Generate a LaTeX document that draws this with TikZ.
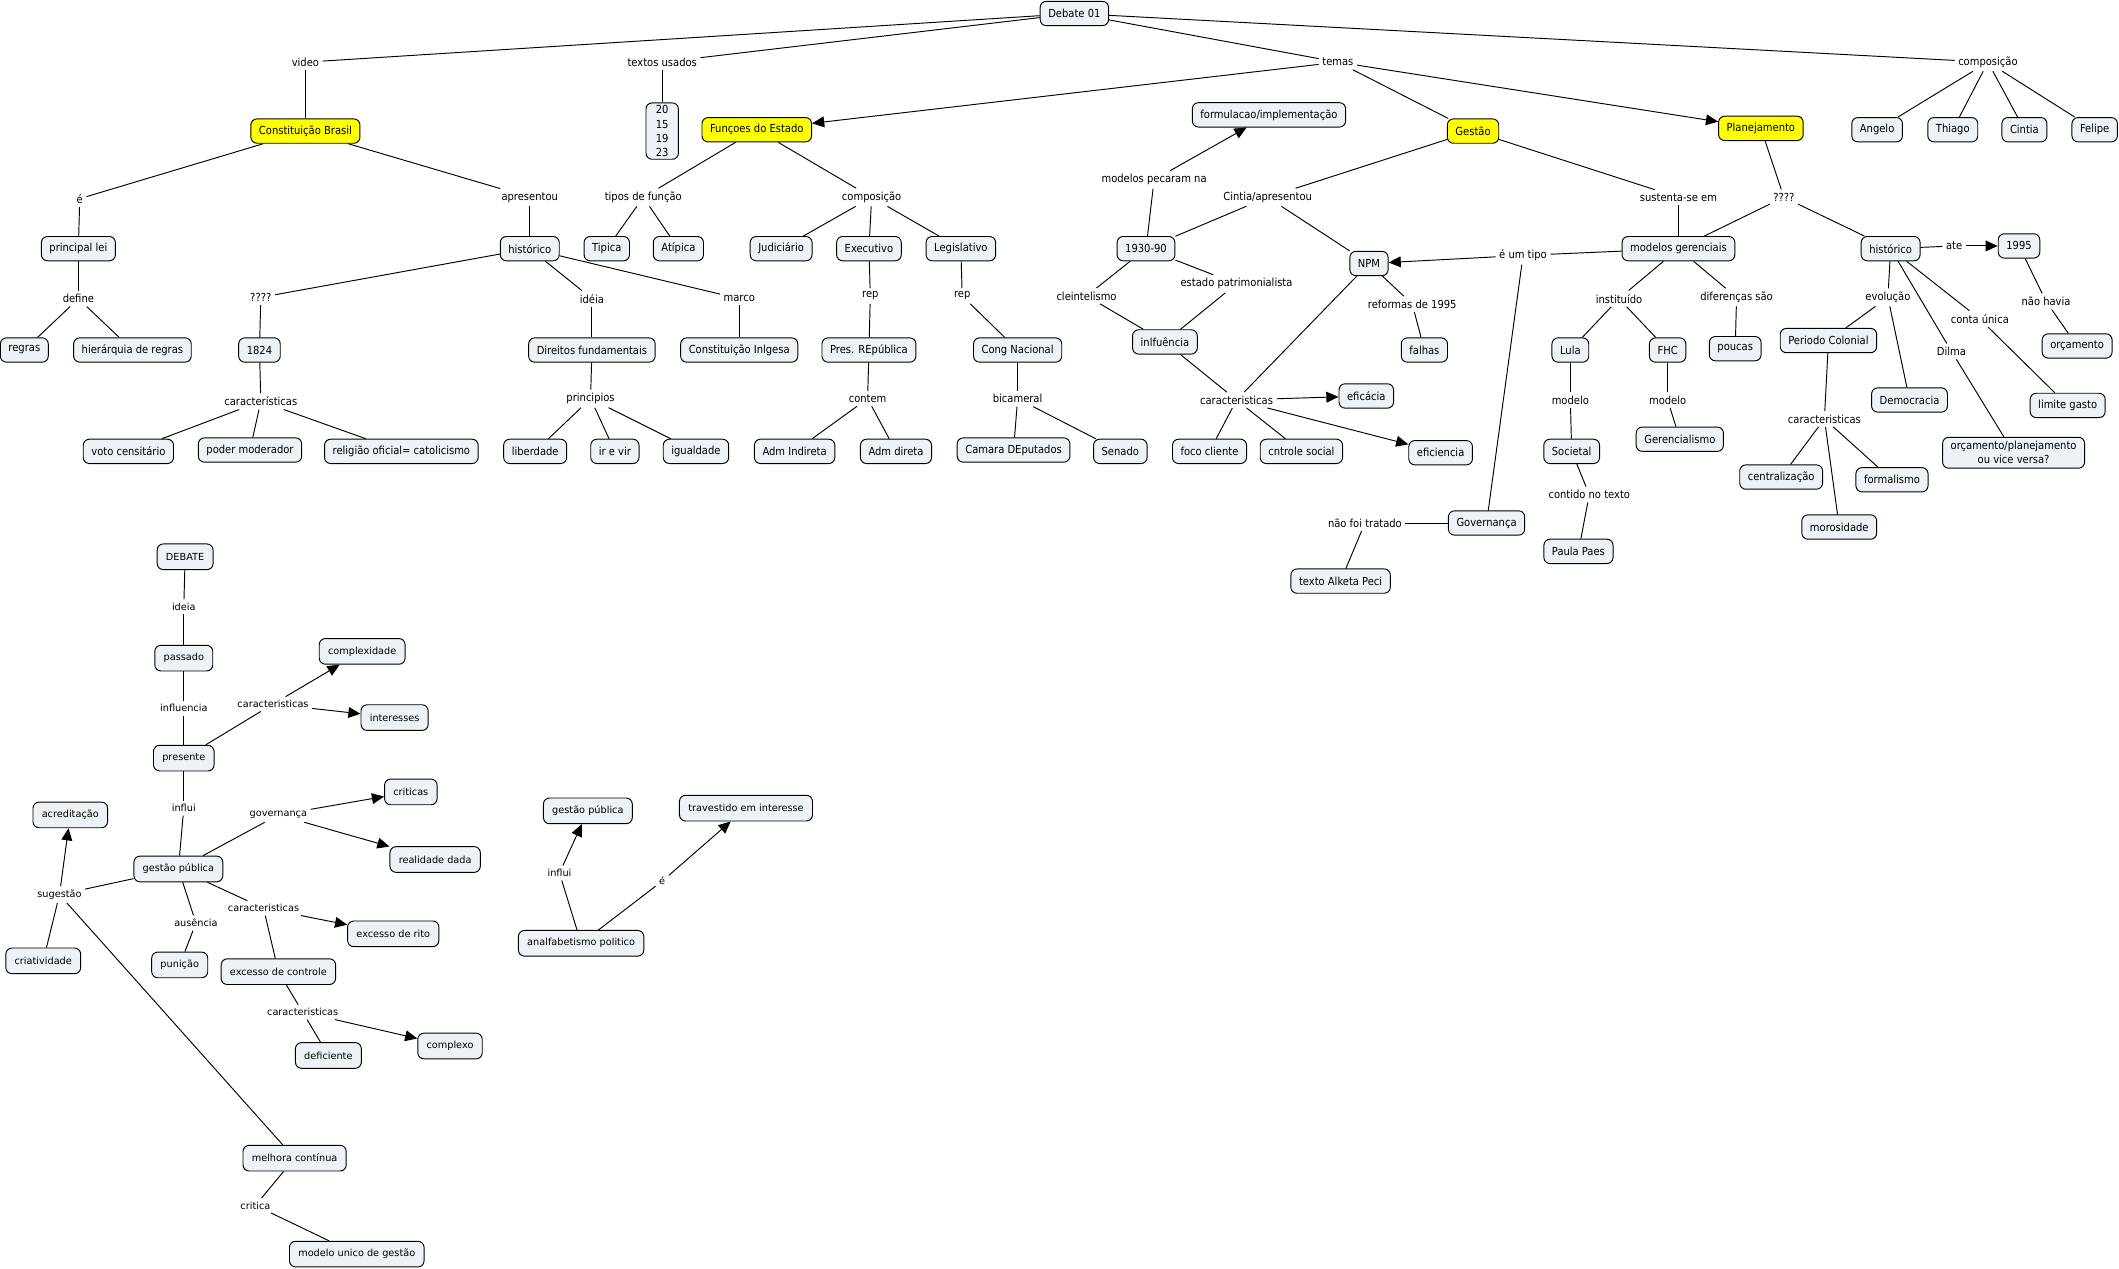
\documentclass[tikz,border=0pt]{standalone}
\usepackage{fontspec}
\setmainfont{DejaVu Sans}
\newfontfamily\condf{DejaVu Sans Condensed}
\usetikzlibrary{arrows.meta}
\definecolor{cbg}{RGB}{236,242,245}
\definecolor{cyel}{RGB}{255,255,0}
\begin{document}
\begin{tikzpicture}[x=1pt,y=-1pt,
 concept/.style={draw=black, line width=0.7pt, rounded corners=4.5pt, fill=cbg, inner xsep=6pt, inner ysep=1pt, minimum height=18pt, font=\condf\fontsize{8.2}{10.5}\selectfont},
 mainc/.style={concept, fill=cyel},
 lbl/.style={inner sep=2.5pt, font=\condf\fontsize{8.2}{10}\selectfont},
 bconcept/.style={concept, font=\fontsize{7.2}{9}\selectfont, inner xsep=6.5pt, minimum height=19pt},
 blbl/.style={lbl, font=\fontsize{7.2}{9}\selectfont},
 ln/.style={line width=0.7pt},
 ar/.style={ln, -{Triangle[length=9pt,width=8pt]}}
]
\fill[white] (0,0) rectangle (1568,939);
\useasboundingbox (0,0) rectangle (1568,939);

% ---------- top concepts ----------
\node[concept] (deb) at (795,10) {Debate 01};
\node[mainc] (cb) at (226,97) {Constituição Brasil};
\node[concept, align=center, inner ysep=2pt, minimum width=24pt, inner xsep=3pt] (nums) at (490,97) {20\\15\\19\\23};
\node[mainc] (fe) at (560,96) {Funçoes do Estado};
\node[concept] (form) at (939,85) {formulacao/implementação};
\node[mainc] (ges) at (1090,97) {Gestão};
\node[mainc] (plan) at (1303,95) {Planejamento};
\node[concept] (angelo) at (1389,96) {Angelo};
\node[concept] (thiago) at (1445,96) {Thiago};
\node[concept] (cintia) at (1498,96) {Cintia};
\node[concept] (felipe) at (1550,96) {Felipe};

\node[concept] (plei) at (58,184) {principal lei};
\node[concept] (h1) at (392,184) {histórico};
\node[concept] (tip) at (449,184) {Tipica};
\node[concept] (atip) at (502,184) {Atípica};
\node[concept] (jud) at (578,184) {Judiciário};
\node[concept] (exe) at (643,184) {Executivo};
\node[concept] (leg) at (711,184) {Legislativo};
\node[concept] (n1930) at (848,184) {1930-90};
\node[concept] (npm) at (1013,195) {NPM};
\node[concept] (mg) at (1242,184) {modelos gerenciais};
\node[concept] (h2) at (1399,184) {histórico};
\node[concept] (y1995) at (1494,182) {1995};

\node[concept] (regras) at (18,259) {regras};
\node[concept] (hier) at (98,259) {hierárquia de regras};
\node[concept] (n1824) at (192,259) {1824};
\node[concept] (dirf) at (438,259) {Direitos fundamentais};
\node[concept] (cing) at (547,259) {Constituição Inlgesa};
\node[concept] (pres) at (643,259) {Pres. REpública};
\node[concept] (cong) at (753,259) {Cong Nacional};
\node[concept] (infl) at (862,253) {inlfuência};
\node[concept] (falhas) at (1054,259) {falhas};
\node[concept] (lula) at (1162,259) {Lula};
\node[concept] (fhc) at (1234,259) {FHC};
\node[concept] (poucas) at (1284,258) {poucas};
\node[concept] (pcol) at (1353,252) {Periodo Colonial};
\node[concept] (orc) at (1537,256) {orçamento};
\node[concept] (democ) at (1413,296) {Democracia};
\node[concept] (limite) at (1530,300) {limite gasto};
\node[concept] (efic) at (1011,293) {eficácia};

\node[concept] (voto) at (95,334) {voto censitário};
\node[concept] (poder) at (185,333) {poder moderador};
\node[concept] (relig) at (297,334) {religião oficial= catolicismo};
\node[concept] (lib) at (396,334) {liberdade};
\node[concept] (irvir) at (455,334) {ir e vir};
\node[concept] (igual) at (515,334) {igualdade};
\node[concept] (admi) at (588,334) {Adm Indireta};
\node[concept] (admd) at (663,334) {Adm direta};
\node[concept] (cam) at (750,333) {Camara DEputados};
\node[concept] (sen) at (829,334) {Senado};
\node[concept] (foco) at (895,334) {foco cliente};
\node[concept] (cntr) at (963,334) {cntrole social};
\node[concept] (efi2) at (1066,335) {eficiencia};
\node[concept] (soc) at (1163,334) {Societal};
\node[concept] (geren) at (1243,325) {Gerencialismo};
\node[concept] (centr) at (1318,353) {centralização};
\node[concept] (formal) at (1400,355) {formalismo};
\node[concept] (moros) at (1361,390) {morosidade};
\node[concept, align=center, inner ysep=3pt] (orcplan) at (1490,335) {orçamento/planejamento\\ou vice versa?};
\node[concept] (gov) at (1100,387) {Governança};
\node[concept] (paula) at (1168,408) {Paula Paes};
\node[concept] (alketa) at (992,430) {texto Alketa Peci};

% ---------- top labels ----------
\node[lbl] (Lvideo) at (226,46) {video};
\node[lbl] (Ltextos) at (490,46) {textos usados};
\node[lbl] (Ltemas) at (990,46) {temas};
\node[lbl] (Lcomp1) at (1471,46) {composição};
\node[lbl] (Le1) at (59,147) {é};
\node[lbl] (Lapres) at (392,146) {apresentou};
\node[lbl] (Ltipos) at (476,146) {tipos de função};
\node[lbl] (Lcomp2) at (645,146) {composição};
\node[lbl] (Lpecaram) at (854,133) {modelos pecaram na};
\node[lbl] (Lcintia) at (938,146) {Cintia/apresentou};
\node[lbl] (Lsust) at (1242,146) {sustenta-se em};
\node[lbl] (Lq2) at (1320,146) {????};
\node[lbl] (Ldefine) at (58,221) {define};
\node[lbl] (Lq1) at (193,220) {????};
\node[lbl] (Lideia) at (438,221) {idéia};
\node[lbl] (Lmarco) at (547,221) {marco};
\node[lbl] (Lrep1) at (644,219) {rep};
\node[lbl] (Lrep2) at (712,219) {rep};
\node[lbl] (Lcleint) at (804,219) {cleintelismo};
\node[lbl] (Lestado) at (915,210) {estado patrimonialista};
\node[lbl] (Lreformas) at (1045,225) {reformas de 1995};
\node[lbl] (Leumtipo) at (1127,189) {é um tipo};
\node[lbl] (Linst) at (1198,221) {instituído};
\node[lbl] (Ldif) at (1285,220) {diferenças são};
\node[lbl] (Late) at (1446,182) {ate};
\node[lbl] (Levol) at (1397,220) {evolução};
\node[lbl] (Lconta) at (1465,236) {conta única};
\node[lbl] (Lnaohavia) at (1514,223) {não havia};
\node[lbl] (Ldilma) at (1444,260) {Dilma};
\node[lbl] (Lcarac1) at (193,297) {características};
\node[lbl] (Lprinc) at (437,295) {principios};
\node[lbl] (Lcontem) at (642,295) {contem};
\node[lbl] (Lbicam) at (753,295) {bicameral};
\node[lbl] (Lcarac2) at (915,296) {caracteristicas};
\node[lbl] (Lmod1) at (1162,296) {modelo};
\node[lbl] (Lmod2) at (1234,296) {modelo};
\node[lbl] (Lcarac3) at (1350,310) {caracteristicas};
\node[lbl] (Lcontido) at (1176,366) {contido no texto};
\node[lbl] (Lnaofoi) at (1010,387) {não foi tratado};

% ---------- top connectors ----------
\draw[ln] (deb) -- (Lvideo); \draw[ln] (Lvideo) -- (cb);
\draw[ln] (deb) -- (Ltextos); \draw[ln] (Ltextos) -- (nums);
\draw[ln] (deb) -- (Ltemas); \draw[ar] (Ltemas) -- (fe); \draw[ln] (Ltemas) -- (ges); \draw[ar] (Ltemas) -- (plan);
\draw[ln] (deb) -- (Lcomp1);
\foreach \t in {angelo,thiago,cintia,felipe} \draw[ln] (Lcomp1) -- (\t);
\draw[ln] (cb) -- (Le1); \draw[ln] (Le1) -- (plei);
\draw[ln] (cb) -- (Lapres); \draw[ln] (Lapres) -- (h1);
\draw[ln] (plei) -- (Ldefine); \draw[ln] (Ldefine) -- (regras); \draw[ln] (Ldefine) -- (hier);
\draw[ln] (h1) -- (Lq1); \draw[ln] (Lq1) -- (n1824); \draw[ln] (n1824) -- (Lcarac1);
\foreach \t in {voto,poder,relig} \draw[ln] (Lcarac1) -- (\t);
\draw[ln] (h1) -- (Lideia); \draw[ln] (Lideia) -- (dirf); \draw[ln] (dirf) -- (Lprinc);
\foreach \t in {lib,irvir,igual} \draw[ln] (Lprinc) -- (\t);
\draw[ln] (h1) -- (Lmarco); \draw[ln] (Lmarco) -- (cing);
\draw[ln] (fe) -- (Ltipos); \draw[ln] (Ltipos) -- (tip); \draw[ln] (Ltipos) -- (atip);
\draw[ln] (fe) -- (Lcomp2);
\foreach \t in {jud,exe,leg} \draw[ln] (Lcomp2) -- (\t);
\draw[ln] (exe) -- (Lrep1); \draw[ln] (Lrep1) -- (pres); \draw[ln] (pres) -- (Lcontem);
\draw[ln] (Lcontem) -- (admi); \draw[ln] (Lcontem) -- (admd);
\draw[ln] (leg) -- (Lrep2); \draw[ln] (Lrep2) -- (cong); \draw[ln] (cong) -- (Lbicam);
\draw[ln] (Lbicam) -- (cam); \draw[ln] (Lbicam) -- (sen);
\draw[ln] (ges) -- (Lcintia); \draw[ln] (Lcintia) -- (n1930); \draw[ln] (Lcintia) -- (npm);
\draw[ln] (n1930) -- (Lpecaram); \draw[ar] (Lpecaram) -- (form);
\draw[ln] (n1930) -- (Lcleint); \draw[ln] (Lcleint) -- (infl);
\draw[ln] (n1930) -- (Lestado); \draw[ln] (Lestado) -- (infl);
\draw[ln] (infl) -- (Lcarac2); \draw[ln] (npm) -- (Lcarac2);
\draw[ar] (Lcarac2) -- (efic); \draw[ar] (Lcarac2) -- (efi2);
\draw[ln] (Lcarac2) -- (foco); \draw[ln] (Lcarac2) -- (cntr);
\draw[ln] (npm) -- (Lreformas); \draw[ln] (Lreformas) -- (falhas);
\draw[ln] (ges) -- (Lsust); \draw[ln] (Lsust) -- (mg);
\draw[ln] (mg) -- (Leumtipo); \draw[ln] (gov) -- (Leumtipo); \draw[ar] (Leumtipo) -- (npm);
\draw[ln] (gov) -- (Lnaofoi); \draw[ln] (Lnaofoi) -- (alketa);
\draw[ln] (mg) -- (Linst); \draw[ln] (Linst) -- (lula); \draw[ln] (Linst) -- (fhc);
\draw[ln] (mg) -- (Ldif); \draw[ln] (Ldif) -- (poucas);
\draw[ln] (lula) -- (Lmod1); \draw[ln] (Lmod1) -- (soc); \draw[ln] (soc) -- (Lcontido); \draw[ln] (Lcontido) -- (paula);
\draw[ln] (fhc) -- (Lmod2); \draw[ln] (Lmod2) -- (geren);
\draw[ln] (plan) -- (Lq2); \draw[ln] (Lq2) -- (mg); \draw[ln] (Lq2) -- (h2);
\draw[ln] (h2) -- (Late); \draw[ar] (Late) -- (y1995);
\draw[ln] (y1995) -- (Lnaohavia); \draw[ln] (Lnaohavia) -- (orc);
\draw[ln] (h2) -- (Levol); \draw[ln] (Levol) -- (pcol); \draw[ln] (Levol) -- (democ);
\draw[ln] (h2) -- (Lconta); \draw[ln] (Lconta) -- (limite);
\draw[ln] (h2) -- (Ldilma); \draw[ln] (Ldilma) -- (orcplan);
\draw[ln] (pcol) -- (Lcarac3);
\foreach \t in {centr,formal,moros} \draw[ln] (Lcarac3) -- (\t);

% ---------- bottom concepts ----------
\node[bconcept] (debate) at (137,412) {DEBATE};
\node[bconcept] (passado) at (136,487) {passado};
\node[bconcept] (complexidade) at (268,482) {complexidade};
\node[bconcept] (interesses) at (292,531) {interesses};
\node[bconcept] (presente) at (136,561) {presente};
\node[bconcept] (criticas) at (304,586) {criticas};
\node[bconcept] (acred) at (52,603) {acreditação};
\node[bconcept] (realidade) at (322,636) {realidade dada};
\node[bconcept] (gp1) at (132,643) {gestão pública};
\node[bconcept] (rito) at (291,691) {excesso de rito};
\node[bconcept] (criat) at (32,711) {criatividade};
\node[bconcept] (punicao) at (133,714) {punição};
\node[bconcept] (exc) at (206,719) {excesso de controle};
\node[bconcept] (defic) at (243,781) {deficiente};
\node[bconcept] (complexo) at (333,774) {complexo};
\node[bconcept] (mel) at (218,857) {melhora contínua};
\node[bconcept] (modunico) at (264,928) {modelo unico de gestão};
\node[bconcept] (gp2) at (435,600) {gestão pública};
\node[bconcept] (trav) at (552,598) {travestido em interesse};
\node[bconcept] (analf) at (430,698) {analfabetismo politico};

% ---------- bottom labels ----------
\node[blbl] (Lideia2) at (136,449) {ideia};
\node[blbl] (Linfluencia) at (136,524) {influencia};
\node[blbl] (Lbc1) at (202,521) {caracteristicas};
\node[blbl] (Linflui1) at (136,598) {influi};
\node[blbl] (Lgov) at (206,603) {governança};
\node[blbl] (Lsug) at (44,662) {sugestão};
\node[blbl] (Lbc2) at (195,672) {caracteristicas};
\node[blbl] (Laus) at (145,683) {ausência};
\node[blbl] (Lbc3) at (224,749) {caracteristicas};
\node[blbl] (Lcritica) at (189,892) {critica};
\node[blbl] (Linflui2) at (414,646) {influi};
\node[blbl] (Le2) at (490,652) {é};

% ---------- bottom connectors ----------
\draw[ln] (debate) -- (Lideia2); \draw[ln] (Lideia2) -- (passado);
\draw[ln] (passado) -- (Linfluencia); \draw[ln] (Linfluencia) -- (presente);
\draw[ln] (presente) -- (Lbc1); \draw[ar] (Lbc1) -- (complexidade); \draw[ar] (Lbc1) -- (interesses);
\draw[ln] (presente) -- (Linflui1); \draw[ln] (Linflui1) -- (gp1);
\draw[ln] (gp1) -- (Lgov); \draw[ar] (Lgov) -- (criticas); \draw[ar] (Lgov) -- (realidade);
\draw[ln] (gp1) -- (Lsug); \draw[ln] (criat) -- (Lsug); \draw[ln] (mel) -- (Lsug); \draw[ar] (Lsug) -- (acred);
\draw[ln] (gp1) -- (Laus); \draw[ln] (Laus) -- (punicao);
\draw[ln] (gp1) -- (Lbc2); \draw[ar] (Lbc2) -- (rito); \draw[ln] (Lbc2) -- (exc);
\draw[ln] (exc) -- (Lbc3); \draw[ln] (Lbc3) -- (defic); \draw[ar] (Lbc3) -- (complexo);
\draw[ln] (mel) -- (Lcritica); \draw[ln] (Lcritica) -- (modunico);
\draw[ln] (analf) -- (Linflui2); \draw[ar] (Linflui2) -- (gp2);
\draw[ln] (analf) -- (Le2); \draw[ar] (Le2) -- (trav);
\end{tikzpicture}
\end{document}
